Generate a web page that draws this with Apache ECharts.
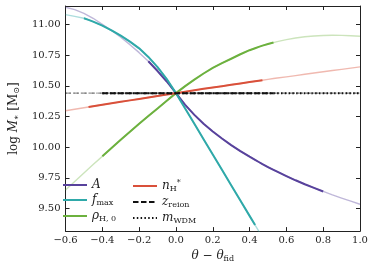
<!DOCTYPE html>
<html><head><meta charset="utf-8">
<script src="https://cdn.jsdelivr.net/npm/echarts@6/dist/echarts.min.js"></script>
<style>html,body{margin:0;padding:0;background:#fff}#c{width:374px;height:268px}</style>
</head><body><div id="c"></div>
<script>
// x values (theta - theta_fid)
const theta = [-0.6,-0.55,-0.5,-0.475,-0.45,-0.4,-0.35,-0.3,-0.25,-0.2,-0.15,-0.1,-0.05,0,
  0.05,0.1,0.15,0.2,0.25,0.3,0.35,0.4,0.43,0.45,0.47,0.5,0.53,0.55,0.6,0.65,0.7,0.75,0.8,0.85,0.9,0.95,1.0];
// log M* for each parameter variation
const valA = [11.14,11.12,11.09,11.07,11.05,11.00,10.95,10.895,10.835,10.77,10.70,10.62,10.535,10.44,
  10.345,10.263,10.19,10.128,10.07,10.017,9.968,9.922,9.896,9.879,9.862,9.838,9.815,9.8,9.764,9.73,9.698,9.668,9.639,9.611,9.585,9.56,9.535];
const valFmax = [11.08,11.065,11.05,11.037,11.023,10.99,10.952,10.908,10.86,10.805,10.735,10.652,10.555,10.44,
  10.315,10.19,10.065,9.94,9.815,9.69,9.565,9.44,9.365,9.315,9.265,9.19,null,null,null,null,null,null,null,null,null,null,null];
const valRho = [9.65,9.72,9.79,9.824,9.858,9.925,9.993,10.06,10.125,10.19,10.253,10.315,10.378,10.44,
  10.497,10.55,10.6,10.645,10.685,10.72,10.757,10.79,10.806,10.817,10.827,10.84,10.852,10.86,10.876,10.889,10.899,10.906,10.91,10.912,10.911,10.908,10.904];
const valNH = [10.297,10.309,10.321,10.327,10.333,10.345,10.357,10.369,10.381,10.393,10.405,10.417,10.429,10.44,
  10.452,10.463,10.475,10.486,10.497,10.508,10.519,10.53,10.537,10.541,10.545,10.552,10.559,10.563,10.573,10.583,10.594,10.604,10.614,10.624,10.634,10.644,10.654];
const valZreion = [10.44,10.44,10.44,10.44,10.44,10.44,10.44,10.44,10.44,10.44,10.44,10.44,10.44,10.44,
  10.44,10.44,10.44,10.44,10.44,10.44,10.44,10.44,10.44,10.44,10.44,10.44,10.44,10.44,10.44,10.44,10.44,10.44,10.44,10.44,10.44,10.44,10.44];
const valMWDM = [10.44,10.44,10.44,10.44,10.44,10.44,10.44,10.44,10.44,10.44,10.44,10.44,10.44,10.44,
  10.44,10.44,10.44,10.44,10.44,10.44,10.44,10.44,10.44,10.44,10.44,10.44,10.44,10.44,10.44,10.44,10.44,10.44,10.44,10.44,10.44,10.44,10.44];
// ranges where each variation is drawn strongly
const rangeA = [-0.15, 0.8];
const rangeFmax = [-0.5, 0.43];
const rangeRho = [-0.4, 0.53];
const rangeNH = [-0.475, 0.47];
const rangeZreion = [-0.4, 0.53];
const rangeMWDM = [-0.4, 1.0];
// ticks
const xTicks = [-0.6,-0.4,-0.2,0,0.2,0.4,0.6,0.8,1.0];
const yTicks = [9.5,9.75,10,10.25,10.5,10.75,11];
const xMin = -0.6, xMax = 1.0, yMin = 9.316, yMax = 11.15;

const seriesNames = ['A','fmax','rho','nH','zreion','mWDM'];
const seriesVals = [valA, valFmax, valRho, valNH, valZreion, valMWDM];
const seriesRanges = [rangeA, rangeFmax, rangeRho, rangeNH, rangeZreion, rangeMWDM];
const styles = [
  {color:'#58429c', light:'rgba(88,66,156,0.38)', type:'solid'},
  {color:'#2fa9a9', light:'rgba(47,169,169,0.4)', type:'solid'},
  {color:'#6cb13e', light:'rgba(108,177,62,0.35)', type:'solid'},
  {color:'#d9503a', light:'rgba(217,80,58,0.4)', type:'solid'},
  {color:'#111111', light:'rgba(17,17,17,0.45)', type:[5.5,2.5]},
  {color:'#111111', light:'rgba(17,17,17,0.35)', type:[1.5,2.3]}
];
const legendLabels = {
  A:'{i|A}', fmax:'{i|f}{s|max}', rho:'{i|ρ}{s|H, 0}',
  nH:'{i|n}{s|H}{p|*}', zreion:'{i|z}{s|reion}', mWDM:'{i|m}{s|WDM}'
};

function pts(vals, r) {
  return theta.map((t,i)=>[t, vals[i]]).filter(p => p[1] != null &&
    (!r || (p[0] >= r[0]-1e-9 && p[0] <= r[1]+1e-9)));
}

const series = [];
seriesNames.forEach((n,k)=>{
  series.push({name:n+'_ext', type:'line', data:pts(seriesVals[k]), symbol:'none', smooth:false,
    silent:true, z:2, lineStyle:{color:styles[k].light, width:1.4, type:styles[k].type, join:'round'}});
});
seriesNames.forEach((n,k)=>{
  series.push({name:n, type:'line', data:pts(seriesVals[k], seriesRanges[k]), symbol:'none', smooth:false,
    z:3, itemStyle:{color:styles[k].color}, lineStyle:{color:styles[k].color, width:2, type:styles[k].type, join:'round'}});
});

const serif = 'DejaVu Serif';
const rich = {
  i:{fontFamily:serif, fontStyle:'italic', fontSize:12, lineHeight:14, color:'#222'},
  t:{fontFamily:serif, fontSize:12, lineHeight:14, color:'#222'},
  s:{fontFamily:serif, fontSize:8, lineHeight:8, verticalAlign:'bottom', color:'#222'},
  p:{fontFamily:serif, fontSize:8, lineHeight:8, verticalAlign:'top', color:'#222'}
};
const fmtX = v => (v < -1e-9 ? '−' : '') + Math.abs(v).toFixed(1);
const fmtY = v => v.toFixed(2);
const axisCol = '#222';
const lbl = {fontFamily:serif, fontSize:10, color:'#222'};

function legend(names, left) {
  return {data:names, orient:'vertical', left:left, top:179, itemWidth:24, itemHeight:14, itemGap:3,
    padding:0, itemStyle:{opacity:0},
    formatter: n => legendLabels[n], textStyle:{rich:rich, fontFamily:serif, fontSize:12, color:'#222'}};
}

const chart = echarts.init(document.getElementById('c'), null, {renderer:'canvas'});
chart.setOption({
  animation:false,
  backgroundColor:'#fff',
  grid:{left:55, right:14, top:6, bottom:36, containLabel:false},
  legend:[legend(['A','fmax','rho'], 62), legend(['nH','zreion','mWDM'], 132)],
  xAxis:[
    {type:'value', min:xMin, max:xMax, position:'bottom',
     axisLine:{show:true, onZero:false, lineStyle:{color:axisCol, width:1}},
     axisTick:{show:true, inside:true, length:4, customValues:xTicks, lineStyle:{color:axisCol}},
     axisLabel:Object.assign({customValues:xTicks, formatter:fmtX, margin:4}, lbl),
     splitLine:{show:false},
     name:'{i|θ}{t| − }{i|θ}{s|fid}', nameLocation:'middle', nameGap:16,
     nameTextStyle:{rich:rich}},
    {type:'value', min:xMin, max:xMax, position:'top',
     axisLine:{show:true, onZero:false, lineStyle:{color:axisCol, width:1}},
     axisTick:{show:true, inside:true, length:4, customValues:xTicks, lineStyle:{color:axisCol}},
     axisLabel:{show:false}, splitLine:{show:false}}
  ],
  yAxis:[
    {type:'value', min:yMin, max:yMax, position:'left',
     axisLine:{show:true, onZero:false, lineStyle:{color:axisCol, width:1}},
     axisTick:{show:true, inside:true, length:4, customValues:yTicks, lineStyle:{color:axisCol}},
     axisLabel:Object.assign({customValues:yTicks, formatter:fmtY, margin:5}, lbl),
     splitLine:{show:false},
     name:'{t|log }{i|M}{s|∗}{t| [M}{s|⊙}{t|]}', nameLocation:'middle', nameGap:35,
     nameTextStyle:{rich:rich}},
    {type:'value', min:yMin, max:yMax, position:'right',
     axisLine:{show:true, onZero:false, lineStyle:{color:axisCol, width:1}},
     axisTick:{show:true, inside:true, length:4, customValues:yTicks, lineStyle:{color:axisCol}},
     axisLabel:{show:false}, splitLine:{show:false}}
  ],
  series:series
});
</script></body></html>
